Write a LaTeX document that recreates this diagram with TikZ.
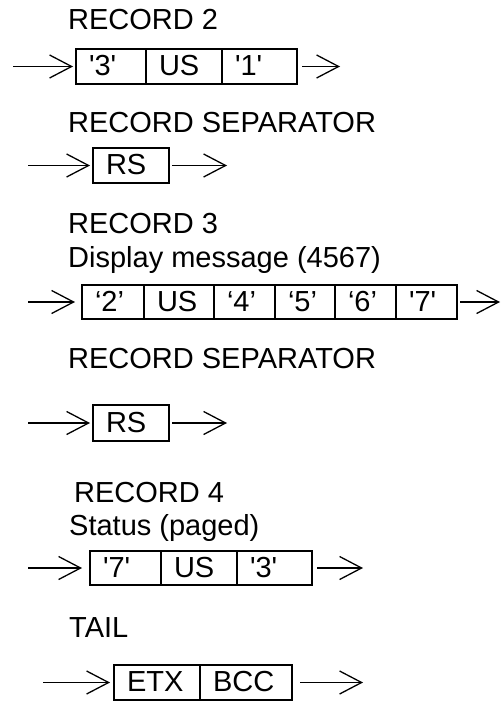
\documentclass[tikz,border=0pt]{standalone}
\usepackage{fontspec}
\setmainfont{Liberation Sans}
\usepackage{tikz}
\usetikzlibrary{arrows.meta}
\usetikzlibrary{positioning,calc}
\newcommand{\sqt}[1]{\textquotesingle#1\textquotesingle}

\begin{document}
\begin{tikzpicture}[x=1pt,y=-1pt,
		every node/.style={font=\fontsize{29}{34}\selectfont},
		lbl/.style={anchor=base west,inner sep=0pt},
		cell/.style={draw,line width=1.6pt,minimum height=35pt,inner xsep=13pt,inner ysep=0pt,outer sep=0pt,
			text width=#1,align=left,text height=21pt,text depth=3pt},
		flow/.style={line width=1.3pt,-{Straight Barb[length=22pt,width=23pt]}}]
				\useasboundingbox (0,0) rectangle (502,701);
				\node[lbl] (t1) at (68,30) {RECORD 2};
				\node[cell=44pt,anchor=west] (a1) at (76,66.5) {\sqt{3}};
				\node[cell=50pt,right=0pt of a1] (a2) {US};
				\node[cell=49pt,right=0pt of a2] (a3) {\sqt{1}};
				\coordinate (ain) at (13,66.5);
				\coordinate (aout) at (340,66.5);
				\draw[flow,shorten >=3pt] (ain) -- (a1);
				\draw[flow,shorten <=5pt] (a3) -- (aout);
				\node[lbl] (t2) at (68,132) {RECORD SEPARATOR};
				\node[cell=50pt,anchor=west] (b1) at (93,165.5) {RS};
				\coordinate (bin) at (28,165.5);
				\coordinate (bout) at (227,165.5);
				\draw[flow,shorten >=3pt] (bin) -- (b1);
				\draw[flow,shorten <=3pt] (b1) -- (bout);
				\node[lbl] (t3) at (68,233) {RECORD 3};
				\node[lbl] (t4) at (68,267) {Display message (4567)};
				\node[cell=36pt,minimum height=34pt,anchor=west] (c1) at (82,302) {‘2’};
				\node[cell=44pt,minimum height=34pt,right=0pt of c1] (c2) {US};
				\node[cell=35pt,minimum height=34pt,right=0pt of c2] (c3) {‘4’};
				\node[cell=34pt,minimum height=34pt,right=0pt of c3] (c4) {‘5’};
				\node[cell=35pt,minimum height=34pt,right=0pt of c4] (c5) {‘6’};
				\node[cell=35pt,minimum height=34pt,right=0pt of c5] (c6) {\sqt{7}};
				\coordinate (cin) at (28,302);
				\coordinate (cout) at (500,302);
				\draw[flow,shorten >=7pt] (cin) -- (c1);
				\draw[flow,shorten <=3pt] (c6) -- (cout);
				\node[lbl] (t5) at (68,368) {RECORD SEPARATOR};
				\node[cell=50pt,minimum height=36pt,anchor=west] (d1) at (93,423) {RS};
				\coordinate (din) at (28,423);
				\coordinate (dout) at (227,423);
				\draw[flow,shorten >=3pt] (din) -- (d1);
				\draw[flow,shorten <=3pt] (d1) -- (dout);
				\node[lbl] (t6) at (74,502) {RECORD 4};
				\node[lbl] (t7) at (69,535) {Status (paged)};
				\node[cell=45pt,minimum height=34pt,anchor=west] (e1) at (90,568) {\sqt{7}};
				\node[cell=50pt,minimum height=34pt,right=0pt of e1] (e2) {US};
				\node[cell=49pt,minimum height=34pt,right=0pt of e2] (e3) {\sqt{3}};
				\coordinate (ein) at (28,568);
				\coordinate (eout) at (363,568);
				\draw[flow,shorten >=8pt] (ein) -- (e1);
				\draw[flow,shorten <=5pt] (e3) -- (eout);
				\node[lbl] (t8) at (69,637) {TAIL};
				\node[cell=60pt,anchor=west] (f1) at (114,682.5) {ETX};
				\node[cell=66pt,right=0pt of f1] (f2) {BCC};
				\coordinate (fin) at (43,682.5);
				\coordinate (fout) at (363,682.5);
				\draw[flow,shorten >=4pt] (fin) -- (f1);
				\draw[flow,shorten <=8pt] (f2) -- (fout);
			\end{tikzpicture}
\end{document}
